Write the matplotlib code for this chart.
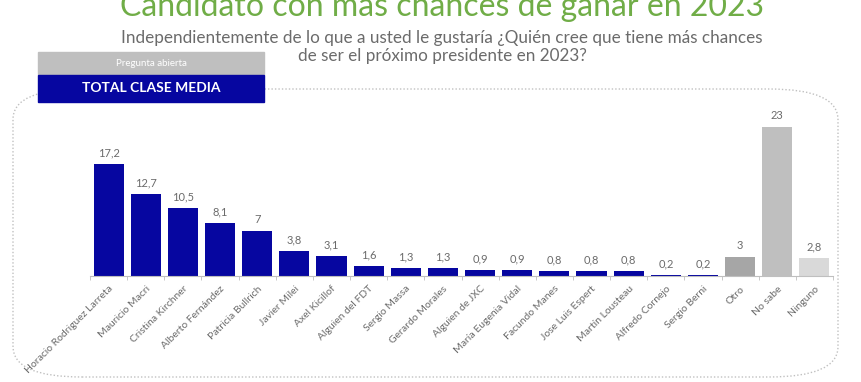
import matplotlib.pyplot as plt
from matplotlib.patches import FancyBboxPatch, Rectangle

# data
candidatos = ["Horacio Rodriguez Larreta", "Mauricio Macri", "Cristina Kirchner",
              "Alberto Fernández", "Patricia Bullrich", "Javier Milei", "Axel Kicillof",
              "Alguien del FDT", "Sergio Massa", "Gerardo Morales", "Alguien de JXC",
              "María Eugenia Vidal", "Facundo Manes", "Jose Luis Espert", "Martín Lousteau",
              "Alfredo Cornejo", "Sergio Berni", "Otro", "No sabe", "Ninguno"]
valores = [17.2, 12.7, 10.5, 8.1, 7, 3.8, 3.1, 1.6, 1.3, 1.3, 0.9,
           0.9, 0.8, 0.8, 0.8, 0.2, 0.2, 3, 23, 2.8]
etiquetas = ["17,2", "12,7", "10,5", "8,1", "7", "3,8", "3,1", "1,6", "1,3", "1,3", "0,9",
             "0,9", "0,8", "0,8", "0,8", "0,2", "0,2", "3", "23", "2,8"]

NAVY = "#0606a0"
colores = [NAVY] * 17 + ["#a6a6a6", "#bfbfbf", "#d9d9d9"]
GRIS = "#6b6b6b"
FONT = "Lato"

W, H = 862, 382
fig = plt.figure(figsize=(W / 100, H / 100), dpi=100)

def fx(px): return px / W
def fy(py): return 1 - py / H

# dotted rounded frame
frame = FancyBboxPatch((fx(13), fy(377)), fx(825), fy(89) - fy(377),
                       boxstyle="round,pad=0,rounding_size=0.08",
                       transform=fig.transFigure, fill=False,
                       edgecolor="#c0c0c0", linestyle=(0, (1, 1.5)), lw=1.0)
fig.patches.append(frame)

# header boxes
fig.patches.append(Rectangle((fx(38), fy(74)), fx(226), fy(52) - fy(74),
                             transform=fig.transFigure, color="#bfbfbf"))
fig.patches.append(Rectangle((fx(38), fy(102)), fx(226), fy(75) - fy(102),
                             transform=fig.transFigure, color=NAVY))
fig.text(fx(151), fy(63), "Pregunta abierta", color="white", fontsize=7,
         ha="center", va="center", family=FONT)
fig.text(fx(151), fy(88.5), "TOTAL CLASE MEDIA", color="white", fontsize=10,
         ha="center", va="center", family=FONT, fontweight="bold")

fig.text(fx(442), fy(16), "Candidato con más chances de ganar en 2023", color="#70ad47",
         fontsize=23, ha="center", va="baseline", family=FONT)
fig.text(fx(442), fy(38), "Independientemente de lo que a usted le gustaría ¿Quién cree que tiene más chances",
         color=GRIS, fontsize=12.3, ha="center", va="center", family=FONT)
fig.text(fx(442), fy(56), "de ser el próximo presidente en 2023?",
         color=GRIS, fontsize=12.3, ha="center", va="center", family=FONT)

ax = fig.add_axes([fx(90), fy(276), fx(833) - fx(90), fy(100) - fy(276)])
x = list(range(len(valores)))
bars = ax.bar(x, valores, width=0.81, color=colores)
for b, t in zip(bars, etiquetas):
    ax.annotate(t, (b.get_x() + b.get_width() / 2, b.get_height()), xytext=(0, 4),
                textcoords="offset points", ha="center", va="bottom",
                fontsize=8, color=GRIS, family=FONT)

ax.set_xlim(-0.5, len(valores) - 0.5)
ax.set_ylim(0, 27.1)
for s in ["top", "right", "left"]:
    ax.spines[s].set_visible(False)
ax.spines["bottom"].set_color("#bfbfbf")
ax.set_yticks([])
ax.set_xticks(x)
ax.set_xticklabels(candidatos, rotation=45, ha="right", rotation_mode="anchor",
                   fontsize=7.5, color=GRIS, family=FONT)
ax.tick_params(axis="x", which="major", length=0, pad=6)
ax.set_xticks([i - 0.5 for i in range(len(valores) + 1)], minor=True)
ax.tick_params(axis="x", which="minor", length=3, color="#bfbfbf")

fig.savefig("out.png", dpi=100)
